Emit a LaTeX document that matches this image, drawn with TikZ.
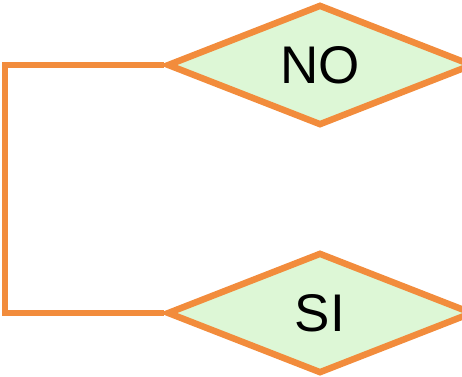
\documentclass[tikz,border=0pt]{standalone}
\usepackage{fontspec}
\setmainfont{Liberation Sans}
\usetikzlibrary{shapes.geometric, backgrounds}

\definecolor{linecol}{HTML}{F28C3C}
\definecolor{fillcol}{HTML}{DDF7D6}

\begin{document}
\begin{tikzpicture}[x=1pt, y=-1pt,
  choice/.style={diamond, draw=linecol, line width=6.5pt, fill=fillcol, minimum width=306pt, minimum height=121pt, inner sep=0pt, font=\fontsize{53}{53}\selectfont},
  link/.style={draw=linecol, line width=6.5pt},
  ]

\useasboundingbox (0,0) rectangle (462,376);

\node (no) [choice] at (320,65) {NO};
\node (si) [choice] at (320,313) {SI};

\coordinate (corner) at (5,65);

\begin{scope}[on background layer]
\draw [link] (no.west) -- (corner) |- (si.west);
\end{scope}

\end{tikzpicture}
\end{document}
